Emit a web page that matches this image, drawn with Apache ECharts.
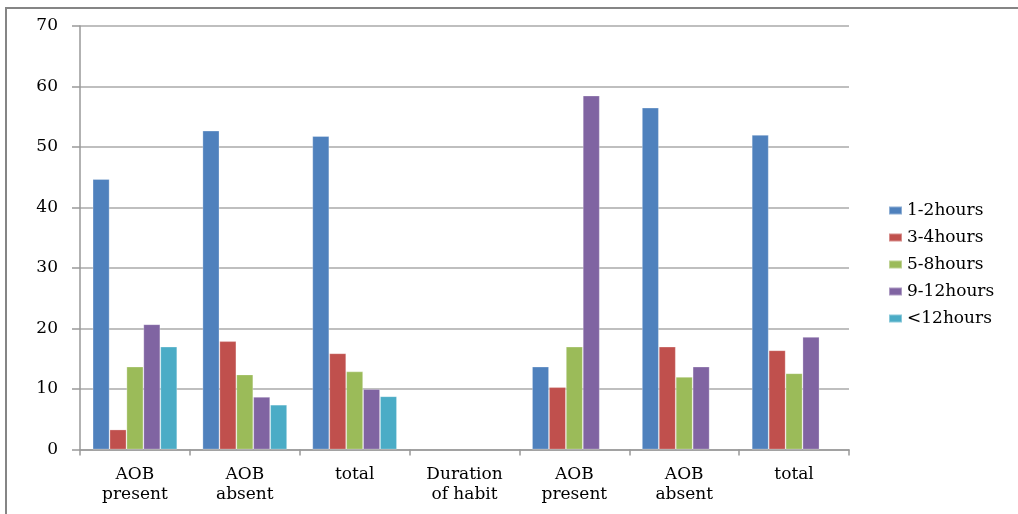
<!DOCTYPE html>
<html>
<head>
<meta charset="utf-8">
<script src="https://cdn.jsdelivr.net/npm/echarts@6/dist/echarts.min.js"></script>
<style>
  html, body { margin: 0; padding: 0; background: #fff; }
  #chart { width: 1018px; height: 514px; }
</style>
</head>
<body>
<div id="chart"></div>
<script>
// Categories along the x axis (two blocks separated by the "Duration of habit" heading)
const categories = ['AOB\npresent', 'AOB\nabsent', 'total', 'Duration\nof habit', 'AOB\npresent', 'AOB\nabsent', 'total'];

// Percentages per duration band
const seriesNames = ['1-2hours', '3-4hours', '5-8hours', '9-12hours', '<12hours'];
const hours1to2  = [44.7, 52.7, 51.8, null, 13.7, 56.5, 52.0];
const hours3to4  = [3.3, 17.9, 15.9, null, 10.3, 17.0, 16.4];
const hours5to8  = [13.7, 12.4, 12.9, null, 17.0, 12.0, 12.6];
const hours9to12 = [20.7, 8.7, 10.0, null, 58.5, 13.7, 18.6];
const hoursOver12 = [17.0, 7.4, 8.8, null, null, null, null];

// Y axis ticks
const yMin = 0, yMax = 70, yStep = 10;

const colors = ['#4F81BD', '#C0504D', '#9BBB59', '#8064A2', '#4BACC6'];
const values = [hours1to2, hours3to4, hours5to8, hours9to12, hoursOver12];

const fontFamily = '"DejaVu Serif", "Liberation Serif", serif';

const chart = echarts.init(document.getElementById('chart'), null, { renderer: 'canvas' });

chart.setOption({
  animation: false,
  backgroundColor: '#ffffff',
  color: colors,
  graphic: [{
    type: 'rect',
    silent: true,
    z: -1,
    shape: { x: 6, y: 8, width: 1100, height: 600 },
    style: { fill: 'none', stroke: '#858585', lineWidth: 2 }
  }],
  grid: { left: 80, right: 169, top: 26, bottom: 64.5, containLabel: false },
  legend: {
    orient: 'vertical',
    left: 888,
    top: 202,
    padding: 0,
    itemWidth: 13,
    itemHeight: 8,
    itemGap: 10,
    icon: 'rect',
    data: seriesNames,
    textStyle: { fontFamily: fontFamily, fontSize: 17, color: '#000', padding: [0, 0, 0, 0] }
  },
  xAxis: {
    type: 'category',
    data: categories,
    axisLine: { lineStyle: { color: '#999', width: 1.5 } },
    axisTick: { show: true, length: 6, lineStyle: { color: '#999', width: 1.5 } },
    axisLabel: {
      interval: 0,
      margin: 15,
      fontFamily: fontFamily,
      fontSize: 17,
      lineHeight: 20,
      color: '#000'
    },
    splitLine: { show: false }
  },
  yAxis: {
    type: 'value',
    min: yMin,
    max: yMax,
    interval: yStep,
    axisLine: { show: true, lineStyle: { color: '#999', width: 1.5 } },
    axisTick: { show: true, length: 8, lineStyle: { color: '#999', width: 1.5 } },
    axisLabel: {
      margin: 22,
      fontFamily: fontFamily,
      fontSize: 17,
      color: '#000'
    },
    splitLine: { show: true, lineStyle: { color: '#aaa', width: 1.5 } }
  },
  series: seriesNames.map((name, i) => ({
    name: name,
    type: 'bar',
    data: values[i],
    barGap: '0%',
    barCategoryGap: '23%',
    itemStyle: { color: colors[i], borderColor: 'rgba(255,255,255,0.35)', borderWidth: 0.8 }
  }))
});
</script>
</body>
</html>
